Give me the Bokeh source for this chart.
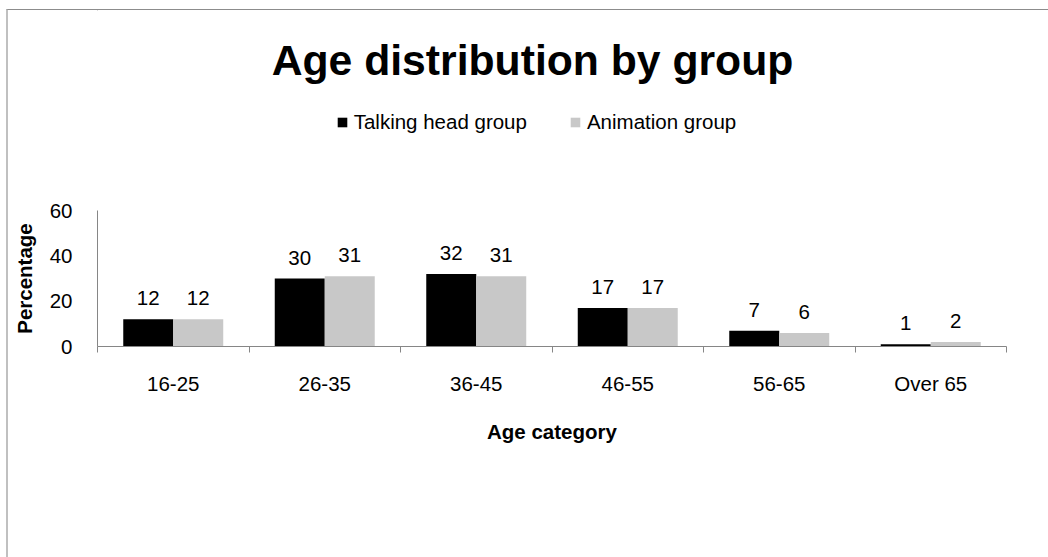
from bokeh.plotting import figure
from bokeh.layouts import column
from bokeh.models import (Range1d, FixedTicker, ColumnDataSource, LabelSet, Legend,
                          LegendItem, Label)
from bokeh.core.properties import value
from bokeh.embed import file_html
from bokeh.resources import INLINE

# Data
categories = ["16-25", "26-35", "36-45", "46-55", "56-65", "Over 65"]
talking_head = [12, 30, 32, 17, 7, 1]
animation = [12, 31, 31, 17, 6, 2]
y_ticks = [0, 20, 40, 60]
series_names = ["Talking head group", "Animation group"]

FONT = "Liberation Sans"
TXT = "20.5px"
BLACK = "#000000"
GREY = "#c8c8c8"
AXIS = "#868686"

# Page geometry (px)
CANVAS_X0, CANVAS_Y0 = 8, 10          # inside the chart-area edges
CANVAS_W = 1040
PLOT_LEFT, PLOT_RIGHT = 97, 1006      # plot area, page coordinates
AXIS_TOP, AXIS_ZERO = 210, 346        # value axis 60 .. 0
MAIN_TOP = 190                        # where the bar figure starts
PAGE_BOTTOM = 557

HEAD_H = MAIN_TOP - CANVAS_Y0
MAIN_H = PAGE_BOTTOM - MAIN_TOP
BORDER_L = PLOT_LEFT - CANVAS_X0
BORDER_R = CANVAS_X0 + CANVAS_W - PLOT_RIGHT

centers = [i + 0.5 for i in range(len(categories))]
bar_w = 0.33

src = ColumnDataSource(dict(
    x_th=[c - bar_w / 2 for c in centers],
    x_an=[c + bar_w / 2 for c in centers],
    th=talking_head,
    an=animation,
    th_lbl=[str(v) for v in talking_head],
    an_lbl=[str(v) for v in animation],
))

# ---------------------------------------------------------------- header
# Header frame uses page pixel coordinates (y grows downwards).
head = figure(width=CANVAS_W, height=HEAD_H, output_backend="svg",
              toolbar_location=None, x_axis_location=None, y_axis_location=None,
              x_range=Range1d(PLOT_LEFT, PLOT_RIGHT),
              y_range=Range1d(MAIN_TOP, CANVAS_Y0),
              min_border_left=BORDER_L, min_border_right=BORDER_R,
              min_border_top=0, min_border_bottom=0)
head.outline_line_color = None
head.grid.grid_line_color = None
head.background_fill_color = "white"
head.border_fill_color = "white"

# legend keys: same fill as the bars, collapsed to zero area in the header
key_th = head.vbar(x="x_th", top="th", bottom="th", width=0, source=src,
                   fill_color=BLACK, line_color=None)
key_an = head.vbar(x="x_an", top="an", bottom="an", width=0, source=src,
                   fill_color=GREY, line_color=None)

title_cx, title_cy = 532, 59
head.add_layout(Label(x=title_cx, y=title_cy,
                      text="Age distribution by group", text_align="center",
                      text_baseline="middle", text_font=FONT,
                      text_font_size="42.7px", text_font_style="bold",
                      text_color=BLACK))

legend = Legend(items=[LegendItem(label=series_names[0], renderers=[key_th]),
                       LegendItem(label=series_names[1], renderers=[key_an])],
                orientation="horizontal", location=(238.7, 56),
                glyph_width=12, glyph_height=12, label_height=12,
                label_standoff=6, spacing=42, padding=0, margin=0,
                border_line_color=None, background_fill_alpha=0,
                label_text_font=FONT, label_text_font_size=TXT,
                label_text_color=BLACK)
head.add_layout(legend, "center")

# ---------------------------------------------------------------- bars
p = figure(width=CANVAS_W, height=MAIN_H, output_backend="svg", toolbar_location=None,
           x_range=Range1d(0, len(categories)), y_range=Range1d(0, y_ticks[-1]),
           min_border_left=BORDER_L, min_border_right=BORDER_R,
           min_border_top=AXIS_TOP - MAIN_TOP,
           min_border_bottom=PAGE_BOTTOM - AXIS_ZERO)
p.outline_line_color = None
p.grid.grid_line_color = None
p.background_fill_color = "white"
p.border_fill_color = "white"

p.vbar(x="x_th", top="th", width=bar_w, source=src, fill_color=BLACK, line_color=None)
p.vbar(x="x_an", top="an", width=bar_w, source=src, fill_color=GREY, line_color=None)

# Value labels above each bar
for xcol, ycol, tcol in (("x_th", "th", "th_lbl"), ("x_an", "an", "an_lbl")):
    p.add_layout(LabelSet(x=xcol, y=ycol, text=tcol, source=src, y_offset=21,
                          text_align="center", text_baseline="middle",
                          text_font_size=TXT, text_font=value(FONT),
                          text_color=BLACK))

# X axis: category names at centres, tick marks at category boundaries
xa = p.xaxis[0]
xa.ticker = FixedTicker(ticks=centers, minor_ticks=list(range(len(categories) + 1)))
xa.major_label_overrides = {c: name for c, name in zip(centers, categories)}
xa.major_tick_line_color = None
xa.major_tick_out = 0
xa.major_tick_in = 0
xa.minor_tick_out = 6
xa.minor_tick_in = 0
xa.minor_tick_line_color = AXIS
xa.axis_line_color = AXIS
xa.major_label_text_font = FONT
xa.major_label_text_font_size = TXT
xa.major_label_text_color = BLACK
xa.major_label_standoff = 19
xa.axis_label = "Age category"
xa.axis_label_text_font = FONT
xa.axis_label_text_font_size = TXT
xa.axis_label_text_font_style = "bold"
xa.axis_label_text_color = BLACK
xa.axis_label_standoff = 22

# Y axis
ya = p.yaxis[0]
ya.ticker = FixedTicker(ticks=y_ticks, minor_ticks=[])
ya.major_tick_line_color = None
ya.major_tick_out = 0
ya.major_tick_in = 0
ya.minor_tick_line_color = None
ya.axis_line_color = AXIS
ya.major_label_text_font = FONT
ya.major_label_text_font_size = TXT
ya.major_label_text_color = BLACK
ya.major_label_standoff = 25
ya.axis_label = "Percentage"
ya.axis_label_text_font = FONT
ya.axis_label_text_font_size = TXT
ya.axis_label_text_font_style = "bold"
ya.axis_label_text_color = BLACK
ya.axis_label_standoff = 11

# chart-area edges (top and left)
page = column(head, p, spacing=0,
              styles={"margin-left": "6px", "margin-top": "9px",
                      "border-left": "2px solid #c0c0c0",
                      "border-top": "1px solid #8c8c8c"})

open("out.html", "w").write(file_html(page, INLINE))
